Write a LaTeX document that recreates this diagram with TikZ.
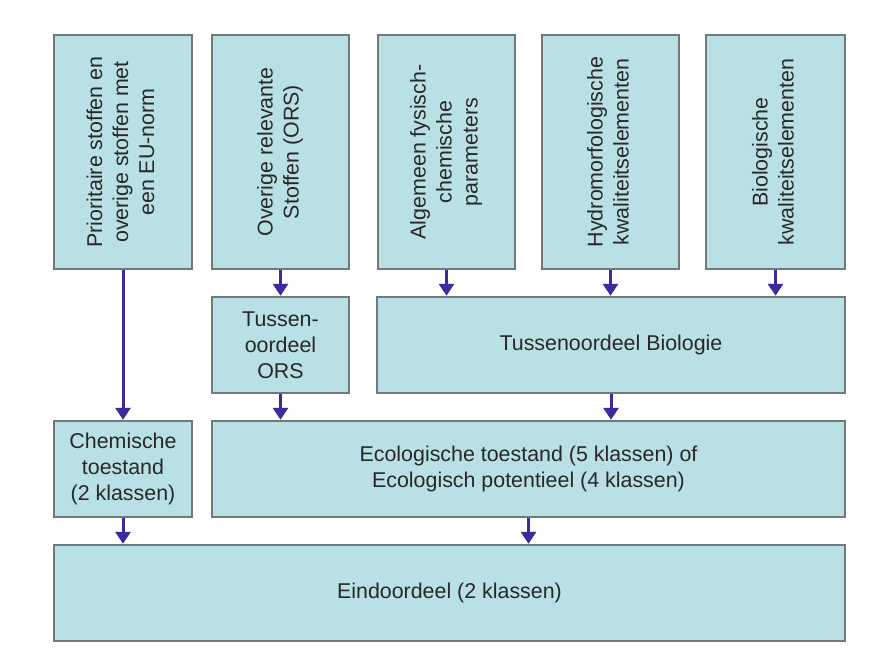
\documentclass[tikz,border=0pt]{standalone}
\usepackage{fontspec}
\setmainfont{Liberation Sans}
\usetikzlibrary{arrows.meta}
\definecolor{boxfill}{RGB}{185,224,228}
\definecolor{boxdraw}{RGB}{110,122,124}
\definecolor{arrowcol}{RGB}{58,44,158}
\definecolor{txtcol}{RGB}{40,40,40}
\newcommand{\vlines}[1]{\rotatebox{90}{\begin{tabular}{@{}c@{}}#1\end{tabular}}}
\begin{document}
\begin{tikzpicture}[x=1pt,y=-1pt,
  box/.style={draw=boxdraw, fill=boxfill, line width=1.5pt, inner sep=0pt,
    text=txtcol, align=center, font=\fontsize{21.4}{26}\selectfont},
  topbox/.style={box, minimum height=234pt},
  midbox/.style={box, minimum height=96pt},
  flow/.style={draw=arrowcol, line width=3pt, -{Triangle[length=12pt,width=15pt]}, shorten >=0.5pt}
]
\path[use as bounding box, fill=white] (0,0) rectangle (869,656);
\renewcommand{\arraystretch}{1}
% top row
\node[topbox, minimum width=138pt] (b1) at (123,152)
  {\fontsize{21.4}{26}\selectfont\vlines{Prioritaire stoffen en\\overige stoffen met\\een EU-norm}};
\node[topbox, minimum width=137pt] (b2) at (280.5,152)
  {\fontsize{21.4}{26}\selectfont\vlines{Overige relevante\\Stoffen (ORS)}};
\node[topbox, minimum width=137pt] (b3) at (446.5,152)
  {\fontsize{21.4}{26}\selectfont\vlines{Algemeen fysisch-\\chemische\\parameters}};
\node[topbox, minimum width=137pt] (b4) at (610.5,152)
  {\fontsize{21.4}{26}\selectfont\vlines{Hydromorfologische\\kwaliteitselementen}};
\node[topbox, minimum width=139pt] (b5) at (775.5,152)
  {\fontsize{21.4}{26}\selectfont\vlines{Biologische\\kwaliteitselementen}};
% second row
\node[midbox, minimum width=137pt] (ors) at (280.5,345) {Tussen-\\oordeel\\ORS};
\node[midbox, minimum width=468pt] (bio) at (611,345) {Tussenoordeel Biologie};
% third row
\node[midbox, minimum width=138pt] (chem) at (123,469) {Chemische\\toestand\\(2 klassen)};
\node[midbox, minimum width=633pt] (eco) at (528.5,469) {Ecologische toestand (5 klassen) of\\Ecologisch potentieel (4 klassen)};
% bottom
\node[midbox, minimum width=791pt] (eind) at (449.5,593) {Eindoordeel (2 klassen)};
% arrows
\draw[flow] (b1.south) -- (chem.north);
\draw[flow] (b2.south) -- (ors.north);
\draw[flow] (b3.south) -- (b3.south |- bio.north);
\draw[flow] (b4.south) -- (b4.south |- bio.north);
\draw[flow] (b5.south) -- (b5.south |- bio.north);
\draw[flow] (ors.south) -- (ors.south |- eco.north);
\draw[flow] (bio.south) -- (bio.south |- eco.north);
\draw[flow] (chem.south) -- (chem.south |- eind.north);
\draw[flow] (eco.south) -- (eco.south |- eind.north);
\end{tikzpicture}
\end{document}
